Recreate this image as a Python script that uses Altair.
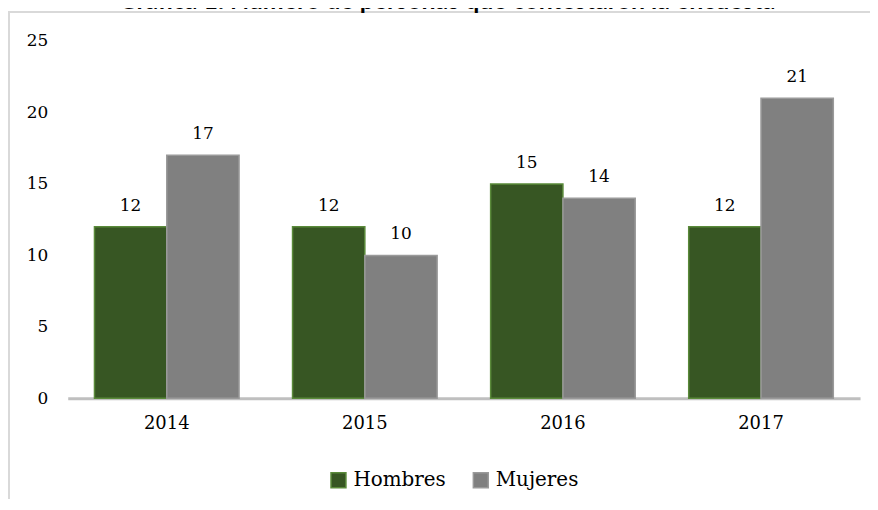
import altair as alt
import pandas as pd

years = ["2014", "2015", "2016", "2017"]
hombres = [12, 12, 15, 12]
mujeres = [17, 10, 14, 21]
series = ["Hombres", "Mujeres"]
fill_colors = ["#375623", "#808080"]
stroke_colors = ["#5a8a3a", "#9a9a9a"]
title_text = "Gráfica 1. Número de personas que contestaron la encuesta"

rows = []
for i, y in enumerate(years):
    rows.append({"Año": y, "Sexo": "Hombres", "Valor": hombres[i]})
    rows.append({"Año": y, "Sexo": "Mujeres", "Valor": mujeres[i]})
df = pd.DataFrame(rows)

serif = "DejaVu Serif"

x_enc = alt.X("Año:N", sort=years, title=None,
              scale=alt.Scale(paddingInner=0.27, paddingOuter=0.135),
              axis=alt.Axis(labelAngle=0, labelFont=serif, labelFontSize=18,
                            labelColor="#000000", labelPadding=16,
                            domain=True, domainColor="#bfbfbf", domainWidth=3,
                            ticks=False, grid=False))
y_enc = alt.Y("Valor:Q", title=None,
              scale=alt.Scale(domain=[0, 25], nice=False),
              axis=alt.Axis(values=[0, 5, 10, 15, 20, 25], labelFont=serif,
                            labelFontSize=17, labelColor="#000000",
                            labelPadding=20, domain=False, ticks=False,
                            grid=False))
xoff = alt.XOffset("Sexo:N", sort=series, scale=alt.Scale(paddingInner=0, paddingOuter=0))

legend_params = dict(title=None, orient="none", legendX=262, legendY=431,
                     direction="horizontal", symbolType="square",
                     symbolSize=225, symbolStrokeWidth=1.5,
                     labelFont=serif, labelFontSize=20, labelColor="#000000",
                     labelOffset=5, columnPadding=24)

bars = alt.Chart(df).mark_bar(strokeWidth=1.5).encode(
    x=x_enc,
    xOffset=xoff,
    y=y_enc,
    fill=alt.Fill("Sexo:N", sort=series,
                  scale=alt.Scale(domain=series, range=fill_colors),
                  legend=alt.Legend(**legend_params)),
    stroke=alt.Stroke("Sexo:N", sort=series,
                      scale=alt.Scale(domain=series, range=stroke_colors),
                      legend=alt.Legend(**legend_params)),
)

labels = alt.Chart(df).mark_text(font=serif, fontSize=17, color="#000000",
                                 baseline="alphabetic", dy=-16).encode(
    x=alt.X("Año:N", sort=years),
    xOffset=alt.XOffset("Sexo:N", sort=series),
    y=alt.Y("Valor:Q"),
    text=alt.Text("Valor:Q"),
)

line_df = pd.DataFrame({"k": [0]})
top_line = alt.Chart(line_df).mark_rule(stroke="#d9d9d9", strokeWidth=2).encode(
    x=alt.value(-59), x2=alt.value(810), y=alt.value(-29)
)
left_line = alt.Chart(line_df).mark_rule(stroke="#d9d9d9", strokeWidth=2).encode(
    x=alt.value(-59), y=alt.value(-30), y2=alt.value(470)
)

title_df = pd.DataFrame({"t": [title_text]})
title = alt.Chart(title_df).mark_text(font="Lato", fontWeight="bold",
                                      fontSize=25, color="#000000",
                                      baseline="alphabetic", align="center").encode(
    x=alt.value(381), y=alt.value(-32), text="t:N"
)

chart = alt.layer(top_line, left_line, bars, labels, title).properties(
    width=796, height=359,
    autosize=alt.AutoSizeParams(type="none"),
    padding={"left": 60, "top": 32, "right": 10, "bottom": 100},
).configure(background="#ffffff", view=alt.ViewConfig(stroke=None))

chart.save("out.html", embed_options={"renderer": "svg", "actions": False})
